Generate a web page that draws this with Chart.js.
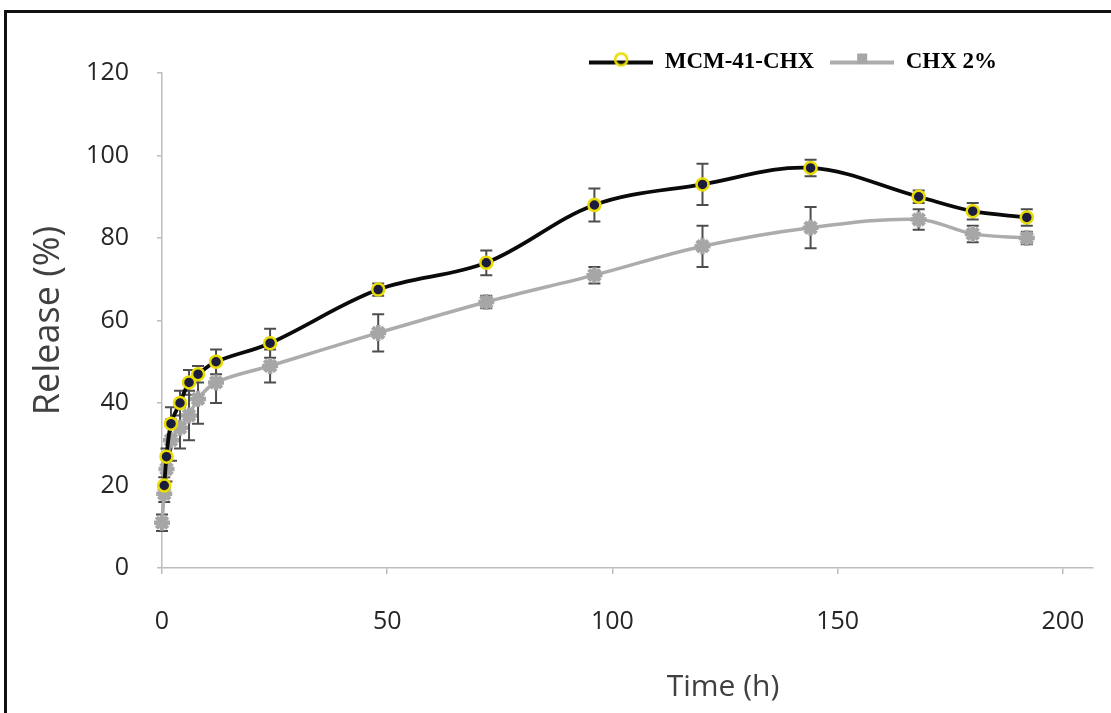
<!DOCTYPE html>
<html>
<head>
<meta charset="utf-8">
<script src="https://cdn.jsdelivr.net/npm/chart.js@4"></script>
<style>
  html, body { margin: 0; padding: 0; background: #fff; }
  #wrap { position: relative; width: 1111px; height: 713px; overflow: hidden; }
  #frame { position: absolute; left: 4px; top: 10px; width: 1120px; height: 720px;
           border-top: 3px solid #111; border-left: 3px solid #111; pointer-events: none; }
</style>
</head>
<body>
<div id="wrap">
  <canvas id="release_chart" width="1111" height="713"></canvas>
  <div id="frame"></div>
</div>
<script>
// sampling times (h)
const times = [0, 0.5, 1, 2, 4, 6, 8, 12, 24, 48, 72, 96, 120, 144, 168, 180, 192];

// MCM-41-CHX release (%) and error
const mcmRelease = [null, 20, 27, 35, 40, 45, 47, 50, 54.5, 67.5, 74, 88, 93, 97, 90, 86.5, 85];
const mcmError   = [0, 2, 2, 4, 3, 3, 2, 3, 3.5, 1.5, 3, 4, 5, 2, 1.5, 2, 2];

// CHX 2% release (%) and error
const chxRelease = [11, 18, 24, 31, 34, 37, 41, 45, 49, 57, 64.5, 71, 78, 82.5, 84.5, 81, 80];
const chxError   = [2, 2, 3, 5, 5, 6, 6, 5, 4, 4.5, 1.5, 2, 5, 5, 2.5, 2, 1.5];

const xTicks = [0, 50, 100, 150, 200];
const xMax = 206.7;
const yMax = 120;
const xTitle = 'Time (h)';

function legendSymbol(lineColor, marker) {
    const c = document.createElement('canvas');
    c.width = 64; c.height = 24;
    const g = c.getContext('2d');
    g.strokeStyle = lineColor;
    g.lineWidth = 4;
    g.beginPath(); g.moveTo(0, 12); g.lineTo(64, 12); g.stroke();
    if (marker === 'circle') {
        g.strokeStyle = '#e8dc00';
        g.lineWidth = 2.5;
        g.beginPath(); g.arc(32, 9, 6, 0, Math.PI * 2); g.stroke();
    } else {
        g.fillStyle = '#a6a6a6';
        g.fillRect(27, 3, 10, 11);
    }
    return c;
}

const errorBars = {
    id: 'errorBars',
    beforeDatasetsDraw(chart) {
        const ctx = chart.ctx;
        const yScale = chart.scales.y;
        const errs = [mcmError, chxError];
        ctx.save();
        ctx.strokeStyle = '#4d4d4d';
        ctx.lineWidth = 2;
        chart.data.datasets.forEach((ds, di) => {
            const meta = chart.getDatasetMeta(di);
            meta.data.forEach((pt, i) => {
                const v = ds.data[i].y;
                const e = errs[di][i];
                if (v === null || !e) return;
                const top = yScale.getPixelForValue(v + e);
                const bot = yScale.getPixelForValue(v - e);
                ctx.beginPath();
                ctx.moveTo(pt.x, top); ctx.lineTo(pt.x, bot);
                ctx.moveTo(pt.x - 6, top); ctx.lineTo(pt.x + 6, top);
                ctx.moveTo(pt.x - 6, bot); ctx.lineTo(pt.x + 6, bot);
                ctx.stroke();
            });
        });
        ctx.restore();
    }
};

// legend sits above the plot, left of the right edge; x title is off-centre
const placeExtras = {
    id: 'placeExtras',
    afterLayout(chart) {
        const lg = chart.legend;
        const h = lg.bottom - lg.top;
        lg.top = 35;
        lg.bottom = 35 + h;
        lg.right = 1013;
    },
    afterDraw(chart) {
        const ctx = chart.ctx;
        ctx.save();
        ctx.fillStyle = '#404040';
        ctx.font = '30px "Open Sans"';
        ctx.textAlign = 'center';
        ctx.textBaseline = 'middle';
        ctx.fillText(xTitle, 723, 687);
        ctx.restore();
    }
};

const ctx = document.getElementById('release_chart').getContext('2d');

new Chart(ctx, {
    type: 'line',
    data: {
        datasets: [
            {
                label: 'MCM-41-CHX',
                data: times.map((t, i) => ({x: t, y: mcmRelease[i]})),
                borderColor: '#0a0a0a',
                borderWidth: 3.8,
                tension: 0.35,
                pointStyle: 'circle',
                pointRadius: 6,
                pointBorderWidth: 2.5,
                pointBorderColor: '#e8dc00',
                pointBackgroundColor: '#1c1c3c',
                clip: false
            },
            {
                label: 'CHX 2%',
                data: times.map((t, i) => ({x: t, y: chxRelease[i]})),
                borderColor: '#acacac',
                borderWidth: 3.5,
                tension: 0.35,
                pointStyle: 'star',
                pointRadius: 8,
                pointBorderWidth: 4.5,
                pointBorderColor: '#a6a6a6',
                pointBackgroundColor: '#a6a6a6',
                clip: false
            }
        ]
    },
    options: {
        responsive: false,
        animation: false,
        layout: { padding: { top: 33, right: 18, bottom: 0, left: 0 } },
        plugins: {
            tooltip: { enabled: false },
            legend: {
                position: 'top',
                align: 'end',
                maxHeight: 40,
                labels: {
                    usePointStyle: true,
                    pointStyleWidth: 64,
                    padding: 16,
                    color: '#000',
                    font: { family: 'Liberation Serif', size: 23, weight: 'bold' },
                    generateLabels(chart) {
                        return [
                            { text: 'MCM-41-CHX', pointStyle: legendSymbol('#0a0a0a', 'circle'), datasetIndex: 0, lineWidth: 0, fontColor: '#000' },
                            { text: 'CHX 2%', pointStyle: legendSymbol('#acacac', 'square'), datasetIndex: 1, lineWidth: 0, fontColor: '#000' }
                        ];
                    }
                }
            }
        },
        scales: {
            x: {
                type: 'linear',
                min: 0,
                max: xMax,
                afterBuildTicks(scale) {
                    scale.ticks = xTicks.map(v => ({ value: v }));
                },
                afterFit(scale) {
                    scale.height = 145;
                    scale.paddingRight = 0;
                    scale.paddingLeft = 0;
                },
                ticks: {
                    padding: 33,
                    color: '#262626',
                    font: { family: 'Open Sans', size: 25 }
                },
                grid: { drawOnChartArea: false, tickLength: 6, color: '#bdbdbd', lineWidth: 1.5 },
                border: { color: '#bdbdbd', width: 1.5 }
            },
            y: {
                min: 0,
                max: yMax,
                afterFit(scale) { scale.width = 162; },
                ticks: {
                    stepSize: 20,
                    padding: 28,
                    color: '#262626',
                    font: { family: 'Open Sans', size: 25 }
                },
                grid: { drawOnChartArea: false, tickLength: 5, color: '#bdbdbd', lineWidth: 1.5 },
                border: { color: '#bdbdbd', width: 1.5 },
                title: {
                    display: true,
                    text: 'Release (%)',
                    color: '#404040',
                    font: { family: 'Open Sans', size: 36 },
                    padding: { top: 27, bottom: 0 }
                }
            }
        }
    },
    plugins: [errorBars, placeExtras]
});
</script>
</body>
</html>
